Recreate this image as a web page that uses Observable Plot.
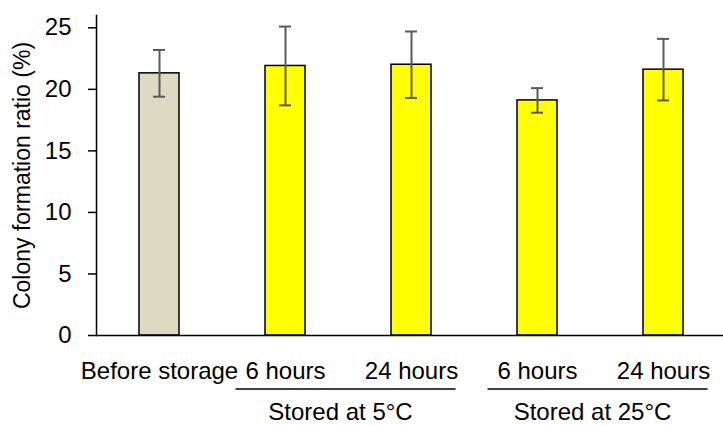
<!DOCTYPE html>
<html>
<head>
<meta charset="utf-8">
<script src="https://cdn.jsdelivr.net/npm/d3@7"></script>
<script src="https://cdn.jsdelivr.net/npm/@observablehq/plot@0.6"></script>
<style>
  html, body { margin: 0; padding: 0; background: #fff; }
  svg { display: block; }
</style>
</head>
<body>
<div id="chart"></div>
<script>
// ---- data ----
const categories = ["before", "5C-6h", "5C-24h", "25C-6h", "25C-24h"];
const tickLabels = ["Before storage", "6 hours", "24 hours", "6 hours", "24 hours"];
const means = [21.3, 21.9, 22.0, 19.1, 21.6];
const errors = [1.9, 3.2, 2.7, 1.0, 2.5];
const barColors = ["#DDD9C3", "#FFFF00", "#FFFF00", "#FFFF00", "#FFFF00"];
const groupLabels = ["Stored at 5°C", "Stored at 25°C"];
const groupMembers = [["5C-6h", "5C-24h"], ["25C-6h", "25C-24h"]];
const yTicks = [0, 5, 10, 15, 20, 25];
const yLabel = "Colony formation ratio (%)";

const data = categories.map((c, i) => ({
  cat: c, label: tickLabels[i], mean: means[i], err: errors[i], color: barColors[i]
}));

const W = 723, H = 425;
const FONT = "'Liberation Sans', Arial, sans-serif";
const FS = 24;

const plot = Plot.plot({
  width: W,
  height: H,
  marginTop: 15,
  marginBottom: 90,
  marginLeft: 96,
  marginRight: 0,
  style: { fontSize: FS + "px", fontFamily: FONT, color: "#000", background: "#fff" },
  x: { domain: categories, range: [96, 726], paddingInner: 0.6825, paddingOuter: 0.341, axis: null },
  y: { domain: [0, 26], axis: null },
  marks: [
    Plot.axisY({ ticks: yTicks, tickSize: 8, tickPadding: 17, strokeWidth: 1.5, label: null }),
    Plot.frame({ anchor: "left", strokeWidth: 1.5 }),
    Plot.barY(data, { x: "cat", y: "mean", fill: "color", stroke: "#000", strokeWidth: 1.5 }),
    Plot.ruleY([0], { strokeWidth: 1.5 }),
    Plot.ruleX(data, { x: "cat", y1: d => d.mean - d.err, y2: d => d.mean + d.err, stroke: "#595959", strokeWidth: 2 }),
    Plot.tickY(data, { x: "cat", y: d => d.mean + d.err, stroke: "#595959", strokeWidth: 2, insetLeft: 14, insetRight: 14 }),
    Plot.tickY(data, { x: "cat", y: d => d.mean - d.err, stroke: "#595959", strokeWidth: 2, insetLeft: 14, insetRight: 14 }),
    Plot.text(data, { x: "cat", text: "label", frameAnchor: "bottom", lineAnchor: "bottom", dy: 43, fill: "#000" }),
    Plot.text([yLabel], { text: d => d, frameAnchor: "left", textAnchor: "middle", rotate: -90, dx: -67, lineAnchor: "bottom", fill: "#000", fontSize: 23 })
  ]
});

// group brackets and labels, positioned with the plot's own scales
const xs = plot.scale("x");
const ys = plot.scale("y");
const cx = v => xs.apply(v) + xs.bandwidth / 2;
const y0 = ys.apply(0);
const svg = d3.select(plot);
const g = svg.append("g");
groupMembers.forEach((m, i) => {
  const c = (cx(m[0]) + cx(m[m.length - 1])) / 2;
  g.append("line")
    .attr("x1", c - 2.5 - 110).attr("x2", c - 2.5 + 110)
    .attr("y1", y0 + 54).attr("y2", y0 + 54)
    .attr("stroke", "#000").attr("stroke-width", 1.5);
  g.append("text")
    .attr("x", c - 7.5).attr("y", y0 + 85)
    .attr("text-anchor", "middle")
    .attr("fill", "#000")
    .attr("font-size", FS)
    .attr("font-family", FONT)
    .text(groupLabels[i]);
});

document.getElementById("chart").appendChild(plot);
</script>
</body>
</html>
